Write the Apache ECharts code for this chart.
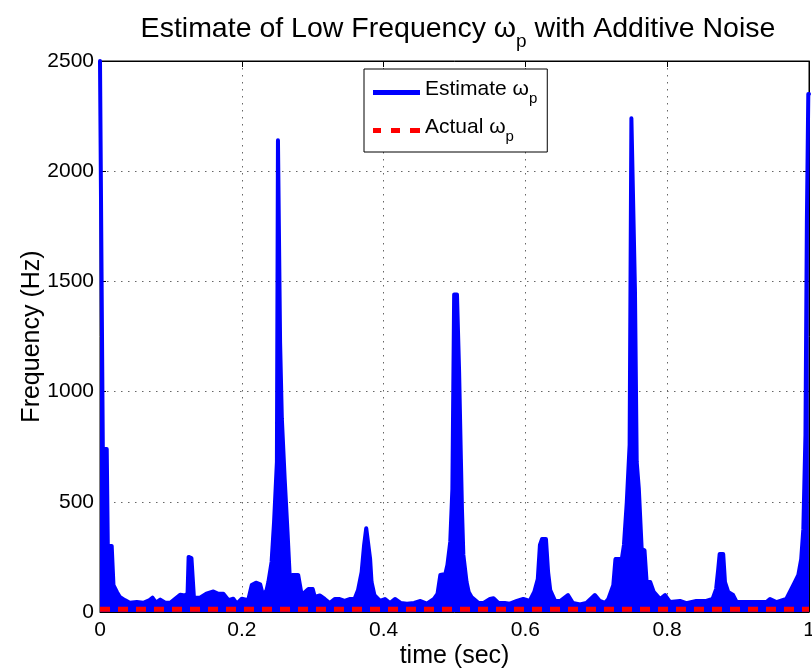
<!DOCTYPE html>
<html>
<head>
<meta charset="utf-8">
<script src="https://cdn.jsdelivr.net/npm/echarts@6/dist/echarts.min.js"></script>
<style>
  html, body { margin: 0; padding: 0; background: #fff; }
  #chart { width: 812px; height: 671px; }
</style>
</head>
<body>
<div id="chart"></div>
<script>
// ---- data ----
const timeValues = [
  0, 0.0025, 0.004, 0.0095, 0.011, 0.0165, 0.019, 0.024, 0.028, 0.035,
  0.042, 0.052, 0.061, 0.070, 0.074, 0.079, 0.085, 0.092, 0.099, 0.106,
  0.113, 0.120, 0.1235, 0.125, 0.129, 0.1325, 0.141, 0.150, 0.160, 0.167,
  0.174, 0.181, 0.188, 0.193, 0.200, 0.209, 0.214, 0.220, 0.226, 0.230,
  0.235, 0.2375, 0.242, 0.2455, 0.2495, 0.251, 0.2525, 0.254, 0.2565, 0.2605,
  0.2645, 0.268, 0.2715, 0.2795, 0.2845, 0.294, 0.300, 0.303, 0.310, 0.317,
  0.324, 0.331, 0.338, 0.345, 0.352, 0.359, 0.364, 0.369, 0.3725, 0.3755,
  0.378, 0.381, 0.383, 0.387, 0.395, 0.402, 0.409, 0.416, 0.424, 0.433,
  0.443, 0.452, 0.461, 0.471, 0.476, 0.480, 0.487, 0.490, 0.494, 0.497,
  0.4995, 0.5035, 0.5065, 0.509, 0.5105, 0.5125, 0.517, 0.520, 0.524, 0.534,
  0.541, 0.550, 0.555, 0.562, 0.571, 0.578, 0.588, 0.597, 0.606, 0.6125,
  0.6175, 0.6205, 0.6235, 0.629, 0.632, 0.635, 0.642, 0.649, 0.660, 0.667,
  0.677, 0.686, 0.698, 0.705, 0.712, 0.717, 0.724, 0.727, 0.736, 0.739,
  0.743, 0.747, 0.7495, 0.752, 0.7545, 0.757, 0.760, 0.764, 0.768, 0.771,
  0.776, 0.781, 0.790, 0.797, 0.804, 0.818, 0.827, 0.841, 0.855, 0.864,
  0.869, 0.872, 0.874, 0.879, 0.8815, 0.886, 0.893, 0.898, 0.912, 0.926,
  0.940, 0.945, 0.954, 0.968, 0.975, 0.980, 0.985, 0.989, 0.992, 0.995,
  0.997, 0.999, 1.0
];
const estimateValues = [
  2500, 2500, 740, 740, 300, 300, 122, 90, 68, 54,
  42, 45, 42, 54, 65, 42, 56, 42, 42, 60,
  78, 75, 83, 250, 245, 65, 65, 83, 93, 83,
  83, 54, 60, 38, 60, 54, 122, 133, 125, 75,
  100, 136, 227, 408, 680, 2140, 2140, 1225, 876, 603,
  363, 136, 168, 168, 77, 104, 104, 68, 75, 59,
  41, 59, 59, 50, 59, 59, 100, 181, 304, 380,
  380, 240, 136, 77, 50, 59, 41, 59, 41, 38,
  41, 50, 38, 59, 82, 168, 172, 213, 318, 558,
  1440, 1440, 1090, 695, 468, 259, 136, 91, 68, 41,
  41, 59, 62, 41, 41, 38, 50, 59, 50, 91,
  150, 304, 331, 331, 181, 100, 50, 50, 77, 41,
  34, 41, 77, 50, 41, 59, 122, 240, 240, 304,
  499, 758, 2240, 2240, 1466, 681, 558, 286, 280, 136,
  136, 91, 59, 77, 45, 50, 40, 50, 50, 59,
  104, 195, 263, 263, 136, 91, 77, 45, 45, 45,
  45, 59, 45, 59, 104, 136, 168, 240, 376, 803,
  1770, 2350, 2350
];
const actualTimes = [0, 1];
const actualValues = [12, 12];
const xTicks = [0, 0.2, 0.4, 0.6, 0.8, 1];
const yTicks = [0, 500, 1000, 1500, 2000, 2500];
const seriesNames = ['Estimate ωp', 'Actual ωp'];

// ---- chart ----
const FONT = '"Liberation Sans", Arial, Helvetica, sans-serif';
const estimateData = timeValues.map((t, i) => [t, estimateValues[i]]);
const actualData = actualTimes.map((t, i) => [t, actualValues[i]]);

const chart = echarts.init(document.getElementById('chart'), null, { renderer: 'canvas' });

const gridLine = { show: true, lineStyle: { color: '#666', type: [1.5, 5.5], width: 1 } };
const tickInside = { show: true, inside: true, length: 6, lineStyle: { color: '#000' } };
const axisLineBlack = { show: true, onZero: false, lineStyle: { color: '#000', width: 1 } };

chart.setOption({
  animation: false,
  backgroundColor: '#fff',
  title: {
    text: '{t|Estimate of Low Frequency ω}{s|p}{t| with Additive Noise}',
    left: 453, top: 10, textAlign: 'center',
    textStyle: {
      fontWeight: 'normal',
      rich: {
        t: { fontSize: 28.5, fontFamily: FONT, fontWeight: 'normal', color: '#000', verticalAlign: 'top' },
        s: { fontSize: 19, fontFamily: FONT, fontWeight: 'normal', color: '#000', verticalAlign: 'top', padding: [17, 0, 0, 0] }
      }
    }
  },
  legend: {
    orient: 'vertical',
    left: 364, top: 69,
    padding: [10, 10, 8, 9],
    itemGap: 11,
    itemWidth: 47, itemHeight: 5,
    backgroundColor: '#fff',
    borderColor: '#000', borderWidth: 1, borderRadius: 0,
    data: [
      { name: seriesNames[0], icon: 'rect' },
      { name: seriesNames[1], icon: 'path://M0,0h8v5h-8z M18,0h9v5h-9z M37,0h10v5h-10z' }
    ],
    formatter: function (name) {
      return '{a|' + name.slice(0, -1) + '}{s|p}';
    },
    textStyle: {
      padding: [0, 0, 0, 0],
      rich: {
        a: { fontSize: 21, fontFamily: FONT, color: '#000', verticalAlign: 'top' },
        s: { fontSize: 15, fontFamily: FONT, color: '#000', verticalAlign: 'top', padding: [12, 0, 0, 0] }
      }
    }
  },
  grid: { left: 100, right: 3, top: 61, bottom: 59, outerBoundsMode: 'none', containLabel: false,
    show: true, borderColor: '#000', borderWidth: 1, backgroundColor: '#fff' },
  xAxis: [{
    type: 'value', min: xTicks[0], max: xTicks[xTicks.length - 1], interval: 0.2,
    position: 'bottom',
    name: 'time (sec)', nameLocation: 'middle', nameGap: 32, nameMoveOverlap: false,
    nameTextStyle: { fontSize: 25, fontFamily: FONT, color: '#000' },
    axisLine: axisLineBlack, axisTick: tickInside, splitLine: gridLine,
    axisLabel: { fontSize: 21, fontFamily: FONT, color: '#000', margin: 8,
      formatter: v => String(Math.round(v * 10) / 10) }
  }, {
    type: 'value', min: xTicks[0], max: xTicks[xTicks.length - 1], interval: 0.2,
    position: 'top',
    axisLine: axisLineBlack, axisTick: tickInside, splitLine: { show: false },
    axisLabel: { show: false }
  }],
  yAxis: [{
    type: 'value', min: yTicks[0], max: yTicks[yTicks.length - 1], interval: 500,
    position: 'left',
    name: 'Frequency (Hz)', nameLocation: 'middle', nameGap: 55, nameMoveOverlap: false,
    nameTextStyle: { fontSize: 25, fontFamily: FONT, color: '#000' },
    axisLine: axisLineBlack, axisTick: tickInside, splitLine: gridLine,
    axisLabel: { fontSize: 21, fontFamily: FONT, color: '#000', margin: 6,
      formatter: v => String(v) }
  }, {
    type: 'value', min: yTicks[0], max: yTicks[yTicks.length - 1], interval: 500,
    position: 'right',
    axisLine: axisLineBlack, axisTick: tickInside, splitLine: { show: false },
    axisLabel: { show: false }
  }],
  series: [{
    name: seriesNames[0],
    type: 'line',
    data: estimateData,
    symbol: 'none', showSymbol: false,
    clip: true,
    lineStyle: { color: '#0000ff', width: 4, cap: 'round', join: 'round' },
    itemStyle: { color: '#0000ff' },
    areaStyle: { color: '#0000ff', opacity: 1, origin: 'start' },
    z: 2
  }, {
    name: seriesNames[1],
    type: 'line',
    data: actualData,
    symbol: 'none', showSymbol: false,
    lineStyle: { color: '#ff0000', width: 5, type: [10, 8] },
    itemStyle: { color: '#ff0000' },
    z: 3
  }]
});
</script>
</body>
</html>
